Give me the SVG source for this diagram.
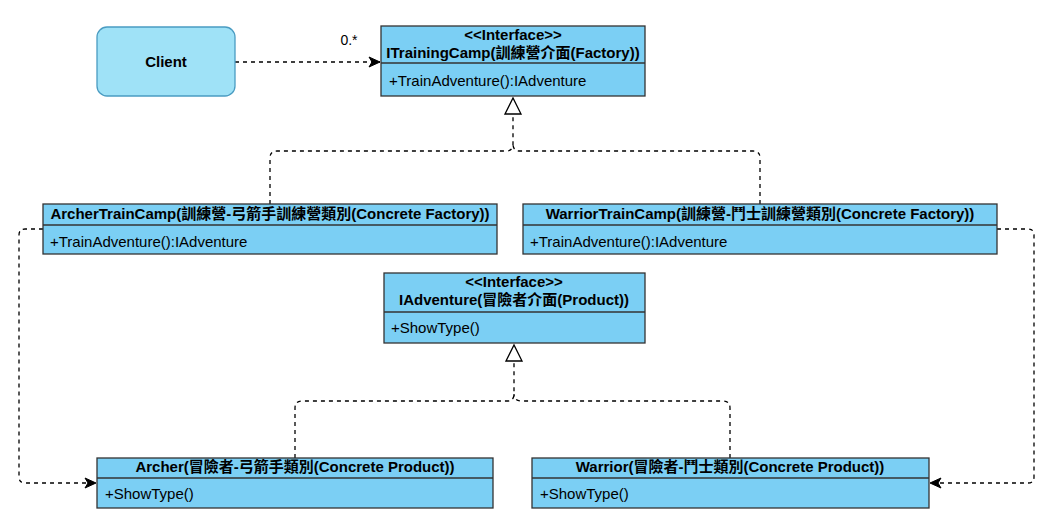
<svg xmlns="http://www.w3.org/2000/svg" width="1042" height="524" viewBox="0 0 1042 524">
<defs>
<style>
text{font-family:"Liberation Sans","Noto Sans CJK TC",Arial,sans-serif;font-size:15px;fill:#000}
.b{font-weight:bold}
.c{text-anchor:middle}
.cls{fill:#7bcff4;stroke:#333;stroke-width:1.3}
.div{stroke:#333;stroke-width:1.3}
.con{fill:none;stroke:#000;stroke-width:1.3;stroke-dasharray:4 4}
</style>
<marker id="arr" markerUnits="userSpaceOnUse" markerWidth="14" markerHeight="12" viewBox="0 0 14 12" refX="12" refY="6" orient="auto">
<path d="M1,1 L12,6 L1,11 L4,6 Z" fill="#000" stroke="#000" stroke-width="1"/>
</marker>
<marker id="tri" markerUnits="userSpaceOnUse" markerWidth="20" markerHeight="20" viewBox="0 0 20 20" refX="17" refY="10" orient="auto">
<path d="M1,2 L17,10 L1,18 Z" fill="#fff" stroke="#000" stroke-width="1.3"/>
</marker>
</defs>
<rect width="1042" height="524" fill="#fff"/>
<g id="connectors">
<path class="con" d="M235,62 L380,62" marker-end="url(#arr)"/>
<text x="349" y="45" class="c" style="font-size:14px">0.*</text>
<path class="con" d="M270,204 L270,158 Q270,151 277,151 L506,151 Q513,151 513,144 L513,98" marker-end="url(#tri)"/>
<path class="con" d="M760,204 L760,158 Q760,151 753,151 L520,151 Q513,151 513,144"/>
<path class="con" d="M295,458 L295,408 Q295,401 302,401 L507,401 Q514,401 514,394 L514,345" marker-end="url(#tri)"/>
<path class="con" d="M730,458 L730,408 Q730,401 723,401 L521,401 Q514,401 514,394"/>
<path class="con" d="M43,229 L25,229 Q19,229 19,235 L19,477 Q19,483 25,483 L96,483" marker-end="url(#arr)"/>
<path class="con" d="M997,229 L1028,229 Q1034,229 1034,235 L1034,477 Q1034,483 1028,483 L930,483" marker-end="url(#arr)"/>
</g>
<g id="client">
<rect x="97" y="27" width="138" height="69" rx="10" fill="#9fe2f7" stroke="#4a9cc2" stroke-width="1.3"/>
<text x="166" y="67" class="b c">Client</text>
</g>
<g id="ITrainingCamp">
<rect class="cls" x="381" y="26" width="264" height="70"/>
<line class="div" x1="381" y1="63" x2="645" y2="63"/>
<text x="513" y="40" class="b c">&lt;&lt;Interface&gt;&gt;</text>
<text x="513" y="58" class="b c">ITrainingCamp(訓練營介面(Factory))</text>
<text x="389" y="86">+TrainAdventure():IAdventure</text>
</g>
<g id="ArcherTrainCamp">
<rect class="cls" x="43" y="204" width="454" height="50"/>
<line class="div" x1="43" y1="225" x2="497" y2="225"/>
<text x="270" y="219" class="b c">ArcherTrainCamp(訓練營-弓箭手訓練營類別(Concrete Factory))</text>
<text x="50" y="247">+TrainAdventure():IAdventure</text>
</g>
<g id="WarriorTrainCamp">
<rect class="cls" x="523" y="204" width="474" height="50"/>
<line class="div" x1="523" y1="225" x2="997" y2="225"/>
<text x="760" y="219" class="b c">WarriorTrainCamp(訓練營-鬥士訓練營類別(Concrete Factory))</text>
<text x="530" y="247">+TrainAdventure():IAdventure</text>
</g>
<g id="IAdventure">
<rect class="cls" x="384" y="273" width="261" height="70"/>
<line class="div" x1="384" y1="312" x2="645" y2="312"/>
<text x="514" y="287" class="b c">&lt;&lt;Interface&gt;&gt;</text>
<text x="514" y="305" class="b c">IAdventure(冒險者介面(Product))</text>
<text x="391" y="333">+ShowType()</text>
</g>
<g id="Archer">
<rect class="cls" x="97" y="458" width="396" height="50"/>
<line class="div" x1="97" y1="478" x2="493" y2="478"/>
<text x="295" y="472" class="b c">Archer(冒險者-弓箭手類別(Concrete Product))</text>
<text x="105" y="499">+ShowType()</text>
</g>
<g id="Warrior">
<rect class="cls" x="532" y="458" width="397" height="50"/>
<line class="div" x1="532" y1="478" x2="929" y2="478"/>
<text x="730" y="472" class="b c">Warrior(冒險者-鬥士類別(Concrete Product))</text>
<text x="540" y="499">+ShowType()</text>
</g>
</svg>
